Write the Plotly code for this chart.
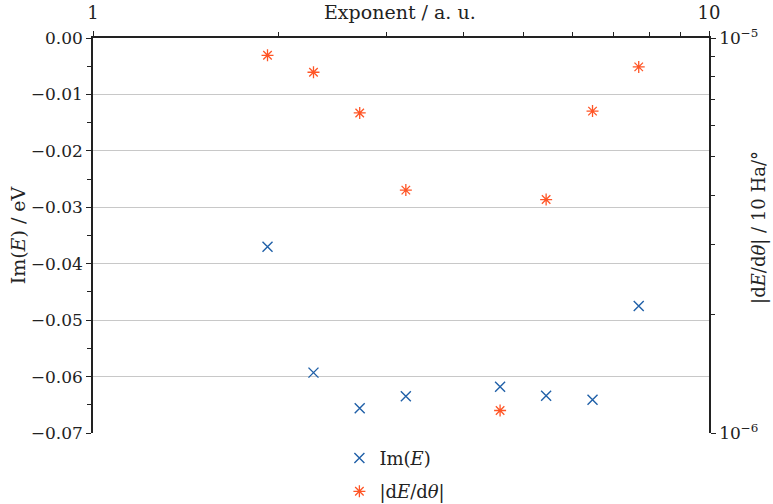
import plotly.graph_objects as go

# exponent values (log x axis, shown at the top)
exponent = [1.92, 2.28, 2.71, 3.22, 4.58, 5.44, 6.47, 7.69]

# imaginary part of the energy, eV (left axis)
im_energy = [-0.0370, -0.0593, -0.0656, -0.0635, -0.0618, -0.0634, -0.0641, -0.0475]

# |dE/dtheta| (right log axis)
de_dtheta = [9.04e-6, 8.19e-6, 6.46e-6, 4.12e-6, 1.14e-6, 3.90e-6, 6.53e-6, 8.45e-6]

left_ticks = [0.0, -0.01, -0.02, -0.03, -0.04, -0.05, -0.06, -0.07]
left_minor = [-0.005, -0.015, -0.025, -0.035, -0.045, -0.055, -0.065]
log_minor = [2, 3, 4, 5, 6, 7, 8, 9]

blue = '#2060a8'
orange = '#ff5526'
font_family = 'DejaVu Serif, Liberation Serif, serif'

fig = go.Figure()

fig.add_trace(go.Scatter(
    x=exponent, y=im_energy,
    mode='markers',
    name='Im(<i>E</i>)',
    legendgroup='a',
    marker=dict(symbol='x-thin', size=10, color=blue,
                line=dict(width=1.4, color=blue)),
    xaxis='x', yaxis='y'))

fig.add_trace(go.Scatter(
    x=exponent, y=de_dtheta,
    mode='markers',
    name='|d<i>E</i>/d<i>θ</i>|',
    legendgroup='b',
    marker=dict(symbol='asterisk-open', size=10, color=orange,
                line=dict(width=1.3, color=orange)),
    xaxis='x', yaxis='y2'))

fig.update_layout(
    width=773, height=504,
    margin=dict(l=93, r=64, t=38, b=71, autoexpand=False),
    paper_bgcolor='white', plot_bgcolor='white',
    font=dict(family=font_family, size=17, color='#222'),
    showlegend=True,
    legend=dict(x=0.40, y=-0.017, xanchor='left', yanchor='top',
                orientation='v', tracegroupgap=7,
                bgcolor='rgba(0,0,0,0)', font=dict(size=18),
                itemwidth=30),
    xaxis=dict(
        type='log', range=[0, 1], side='top', automargin=False,
        showline=True, linecolor='#222', linewidth=1.5,
        mirror=False, showgrid=False, zeroline=False,
        ticks='outside', ticklen=5, tickcolor='#222',
        tickvals=[1, 10], ticktext=['1', '10'],
        ticklabelstandoff=5,
        tickfont=dict(size=18),
        minor=dict(tickvals=log_minor, ticks='outside', ticklen=4,
                   tickcolor='#222', showgrid=False),
    ),
    yaxis=dict(
        range=[-0.07, 0.0], automargin=False,
        tickvals=left_ticks, tickformat='.2f',
        showline=True, linecolor='#222', linewidth=1.5,
        ticks='outside', ticklen=5, tickcolor='#222',
        showgrid=True, gridcolor='#c8c8c8', gridwidth=1,
        zeroline=False,
        minor=dict(tickvals=left_minor, ticks='outside', ticklen=4,
                   tickcolor='#222', showgrid=False),
    ),
    yaxis2=dict(
        type='log', range=[-6, -5], overlaying='y', side='right',
        anchor='x', automargin=False,
        showline=True, linecolor='#222', linewidth=1.5,
        ticks='outside', ticklen=5, tickcolor='#222',
        showgrid=False, zeroline=False,
        tickvals=[1e-6, 1e-5],
        ticktext=['10<sup>−6</sup>', '10<sup>−5</sup>'],
        minor=dict(tickvals=[v * 1e-6 for v in log_minor], ticks='outside',
                   ticklen=4, tickcolor='#222', showgrid=False),
    ),
    annotations=[
        dict(text='Exponent / a. u.', x=0.498, y=1.0,
             xref='paper', yref='paper', xanchor='center', yanchor='middle',
             yshift=26, showarrow=False, font=dict(size=19)),
        dict(text='Im(<i>E</i>) / eV', x=-0.122, y=0.5,
             xref='paper', yref='paper', xanchor='center', yanchor='middle',
             textangle=-90, showarrow=False, font=dict(size=19)),
        dict(text='|d<i>E</i>/d<i>θ</i>| / 10 Ha/°', x=1.08, y=0.52,
             xref='paper', yref='paper', xanchor='center', yanchor='middle',
             textangle=-90, showarrow=False, font=dict(size=18)),
    ],
)

# drop the default body margin so the figure fills the window exactly
fig.write_html("out.html", config={'displayModeBar': False},
               post_script="document.body.style.margin = '0';")
